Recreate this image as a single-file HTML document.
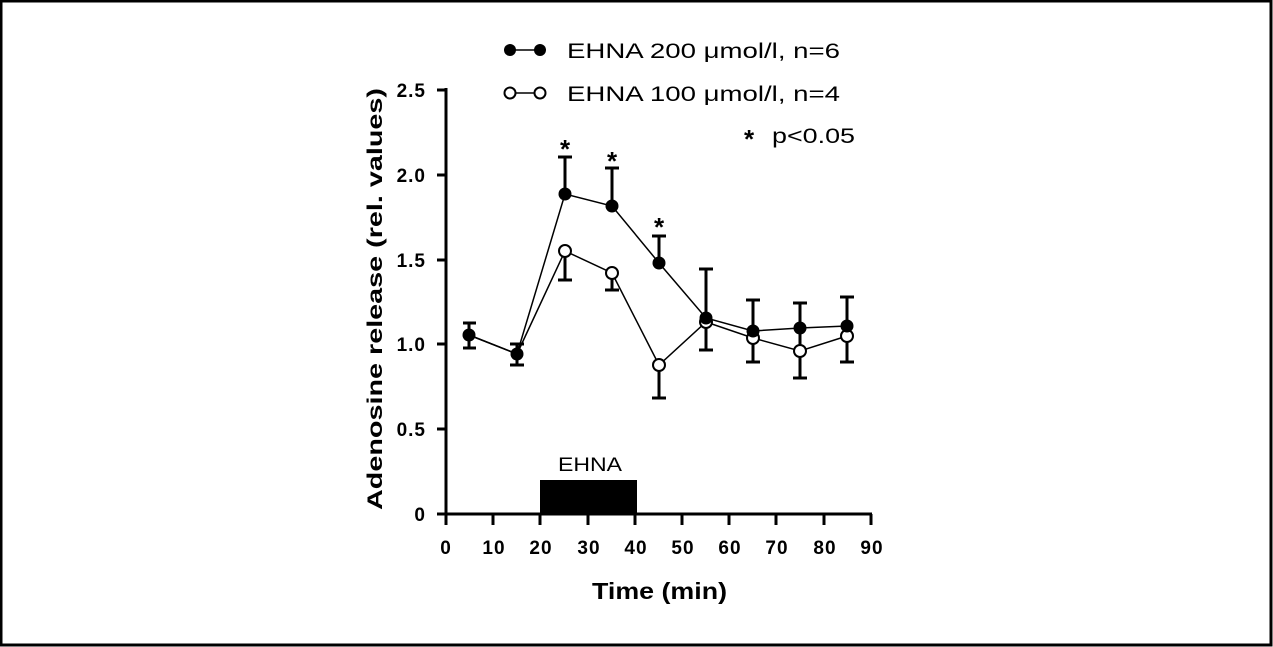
<!DOCTYPE html>
<html><head><style>
body{margin:0;background:#fff}
svg{display:block}
text{font-family:"Liberation Sans",Arial,sans-serif;font-weight:bold;fill:#000}
</style></head><body>
<svg width="1273" height="647" viewBox="0 0 1273 647">
<rect x="1" y="1" width="1270" height="644" fill="none" stroke="#000" stroke-width="3"/>
<g stroke="#000" stroke-width="3" fill="none">
<line x1="446" y1="88" x2="446" y2="515"/>
<line x1="445" y1="514" x2="872" y2="514"/>
<line x1="437" y1="90" x2="446" y2="90"/>
<line x1="437" y1="175" x2="446" y2="175"/>
<line x1="437" y1="260" x2="446" y2="260"/>
<line x1="437" y1="344" x2="446" y2="344"/>
<line x1="437" y1="429" x2="446" y2="429"/>
<line x1="437" y1="514" x2="446" y2="514"/>
<line x1="446" y1="514" x2="446" y2="525"/><line x1="493" y1="514" x2="493" y2="525"/><line x1="540" y1="514" x2="540" y2="525"/><line x1="588" y1="514" x2="588" y2="525"/><line x1="635" y1="514" x2="635" y2="525"/><line x1="682" y1="514" x2="682" y2="525"/><line x1="729" y1="514" x2="729" y2="525"/><line x1="776" y1="514" x2="776" y2="525"/><line x1="824" y1="514" x2="824" y2="525"/><line x1="871" y1="514" x2="871" y2="525"/>
</g>
<g font-size="19" text-anchor="end" letter-spacing="1">
<text x="426" y="97">2.5</text><text x="426" y="182">2.0</text><text x="426" y="267">1.5</text><text x="426" y="351">1.0</text><text x="426" y="436">0.5</text><text x="426" y="521">0</text>
</g>
<g font-size="19" text-anchor="middle" letter-spacing="1">
<text x="446" y="554">0</text><text x="494" y="554">10</text><text x="541" y="554">20</text><text x="589" y="554">30</text><text x="636" y="554">40</text><text x="683" y="554">50</text><text x="730" y="554">60</text><text x="777" y="554">70</text><text x="825" y="554">80</text><text x="872" y="554">90</text>
</g>
<text x="592" y="599" font-size="23" textLength="135" lengthAdjust="spacingAndGlyphs">Time  (min)</text>
<text transform="translate(382,510) rotate(-90)" font-size="21" textLength="422" lengthAdjust="spacingAndGlyphs">Adenosine release (rel. values)</text>
<rect x="540" y="480" width="97" height="34" fill="#000"/>
<text x="558" y="471" font-size="19" style="font-weight:normal" textLength="64" lengthAdjust="spacingAndGlyphs">EHNA</text>
<g stroke="#000" stroke-width="3">
<line x1="469" y1="323" x2="469" y2="348"/><line x1="463" y1="323" x2="476" y2="323"/><line x1="463" y1="348" x2="476" y2="348"/>
<line x1="517" y1="344" x2="517" y2="365"/><line x1="510" y1="344" x2="524" y2="344"/><line x1="510" y1="365" x2="524" y2="365"/>
<line x1="565" y1="157" x2="565" y2="194"/><line x1="558" y1="157" x2="572" y2="157"/>
<line x1="565" y1="251" x2="565" y2="280"/><line x1="558" y1="280" x2="572" y2="280"/>
<line x1="612" y1="168" x2="612" y2="206"/><line x1="605" y1="168" x2="619" y2="168"/>
<line x1="612" y1="273" x2="612" y2="290"/><line x1="605" y1="290" x2="619" y2="290"/>
<line x1="659" y1="236" x2="659" y2="263"/><line x1="652" y1="236" x2="666" y2="236"/>
<line x1="659" y1="365" x2="659" y2="398"/><line x1="652" y1="398" x2="666" y2="398"/>
<line x1="706" y1="269" x2="706" y2="350"/><line x1="699" y1="269" x2="713" y2="269"/><line x1="699" y1="350" x2="713" y2="350"/>
<line x1="753" y1="300" x2="753" y2="362"/><line x1="746" y1="300" x2="760" y2="300"/><line x1="746" y1="362" x2="760" y2="362"/>
<line x1="800" y1="303" x2="800" y2="378"/><line x1="793" y1="303" x2="807" y2="303"/><line x1="793" y1="378" x2="807" y2="378"/>
<line x1="847" y1="297" x2="847" y2="362"/><line x1="840" y1="297" x2="854" y2="297"/><line x1="840" y1="362" x2="854" y2="362"/>
</g>
<polyline points="469,335 517,354 565,251 612,273 659,365 706,322 753,338 800,351 847,336" fill="none" stroke="#000" stroke-width="1.5"/>
<polyline points="469,335 517,354 565,194 612,206 659,263 706,318 753,331 800,328 847,326" fill="none" stroke="#000" stroke-width="1.5"/>
<g fill="#fff" stroke="#000" stroke-width="2">
<circle cx="565" cy="251" r="6"/><circle cx="612" cy="273" r="6"/><circle cx="659" cy="365" r="6"/><circle cx="706" cy="322" r="6"/><circle cx="753" cy="338" r="6"/><circle cx="800" cy="351" r="6"/><circle cx="847" cy="336" r="6"/>
</g>
<g fill="#000">
<circle cx="469" cy="335" r="6.5"/><circle cx="517" cy="354" r="6.5"/><circle cx="565" cy="194" r="6.5"/><circle cx="612" cy="206" r="6.5"/><circle cx="659" cy="263" r="6.5"/><circle cx="706" cy="318" r="6.5"/><circle cx="753" cy="331" r="6.5"/><circle cx="800" cy="328" r="6.5"/><circle cx="847" cy="326" r="6.5"/>
</g>
<g font-size="26" text-anchor="middle">
<text x="565" y="158">*</text><text x="612" y="170">*</text><text x="659" y="236">*</text>
</g>
<line x1="510" y1="50" x2="540" y2="50" stroke="#000" stroke-width="1.5"/>
<circle cx="510" cy="50" r="6" fill="#000"/><circle cx="540" cy="50" r="6" fill="#000"/>
<line x1="510" y1="93" x2="540" y2="93" stroke="#000" stroke-width="1.5"/>
<circle cx="510" cy="93" r="5.5" fill="#fff" stroke="#000" stroke-width="2"/><circle cx="540" cy="93" r="5.5" fill="#fff" stroke="#000" stroke-width="2"/>
<g font-size="21">
<text x="567" y="58" style="font-weight:normal" textLength="273" lengthAdjust="spacingAndGlyphs">EHNA  200  μmol/l,  n=6</text>
<text x="567" y="101" style="font-weight:normal" textLength="273" lengthAdjust="spacingAndGlyphs">EHNA  100  μmol/l,  n=4</text>
<text x="749" y="148" font-size="26" text-anchor="middle">*</text>
<text x="772" y="143" style="font-weight:normal" textLength="83" lengthAdjust="spacingAndGlyphs">p&lt;0.05</text>
</g>
</svg>
</body></html>
